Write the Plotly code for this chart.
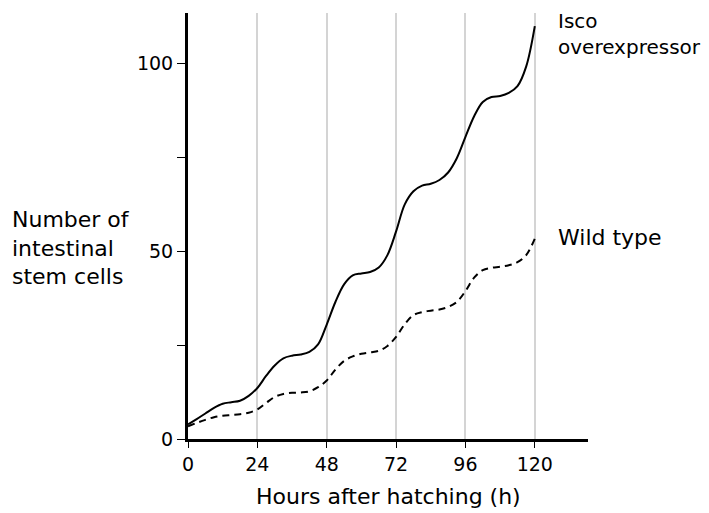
import plotly.graph_objects as go

hours = [0, 3, 6, 9, 12, 15, 18, 21, 24, 27, 30, 33, 36, 39, 42, 45, 48, 51, 54,
         57, 60, 63, 66, 69, 72, 75, 78, 81, 84, 87, 90, 93, 96, 99, 102, 105,
         108, 111, 114, 117, 120]
isco = [3.9, 5.3, 6.8, 8.3, 9.4, 9.8, 10.2, 11.5, 13.6, 16.8, 19.6, 21.5, 22.2,
        22.5, 23.2, 25.2, 30.5, 36.5, 41.2, 43.6, 44.1, 44.5, 45.7, 49.0, 55.3,
        62.5, 66.0, 67.5, 68.0, 69.0, 71.0, 74.8, 80.5, 86.0, 89.8, 91.1, 91.4,
        92.2, 94.0, 99.2, 110.0]
wild = [3.4, 4.3, 5.1, 5.8, 6.2, 6.4, 6.6, 7.0, 7.9, 9.6, 11.2, 12.0, 12.3,
        12.4, 12.7, 13.8, 15.6, 18.5, 20.8, 22.0, 22.7, 23.1, 23.5, 24.8, 27.2,
        30.6, 33.0, 33.8, 34.2, 34.5, 35.2, 36.5, 39.4, 43.0, 45.0, 45.6, 45.9,
        46.3, 47.1, 49.0, 53.4]

x_ticks = [0, 24, 48, 72, 96, 120]
y_ticks = [0, 25, 50, 75, 100]
y_ticktext = ["0", "", "50", "", "100"]

FONT = "DejaVu Sans"

fig = go.Figure()
fig.add_trace(go.Scatter(x=hours, y=isco, mode="lines",
                         line=dict(color="black", width=2, shape="spline", smoothing=1),
                         showlegend=False))
fig.add_trace(go.Scatter(x=hours, y=wild, mode="lines",
                         line=dict(color="black", width=2, dash="7px,5px",
                                   shape="spline", smoothing=1),
                         showlegend=False))

fig.update_layout(
    width=709, height=513,
    margin=dict(l=180, r=129, t=5, b=82),
    paper_bgcolor="white", plot_bgcolor="white",
    font=dict(family=FONT, size=19, color="black"),
    xaxis=dict(range=[0, 138.4], tickvals=x_ticks, showgrid=True,
               gridcolor="#d4d4d4", gridwidth=1.5, zeroline=False,
               showline=True, linecolor="black", linewidth=3,
               ticks="outside", ticklen=6, tickwidth=1, tickcolor="black",
               tickfont=dict(size=19)),
    yaxis=dict(range=[0, 113.5], tickvals=y_ticks, ticktext=y_ticktext,
               showgrid=False, zeroline=False,
               showline=True, linecolor="black", linewidth=3,
               ticks="outside", ticklen=8, tickwidth=1, tickcolor="black",
               tickfont=dict(size=19)),
)

fig.add_annotation(text="Number of<br>intestinal<br>stem cells", xref="paper", yref="y",
                   x=-0.445, y=51, xanchor="left", yanchor="middle", align="left",
                   showarrow=False, font=dict(size=22))
fig.add_annotation(text="Hours after hatching (h)", xref="paper", yref="paper",
                   x=0.5, y=-0.136, xanchor="center", yanchor="middle",
                   showarrow=False, font=dict(size=22))
fig.add_annotation(text="Isco<br>overexpressor", xref="x", yref="y",
                   x=127.2, y=107.9, xanchor="left", yanchor="middle", align="left",
                   showarrow=False, font=dict(size=20))
fig.add_annotation(text="Wild type", xref="x", yref="y",
                   x=127.2, y=53.7, xanchor="left", yanchor="middle", align="left",
                   showarrow=False, font=dict(size=22))

fig.write_html("out.html")
